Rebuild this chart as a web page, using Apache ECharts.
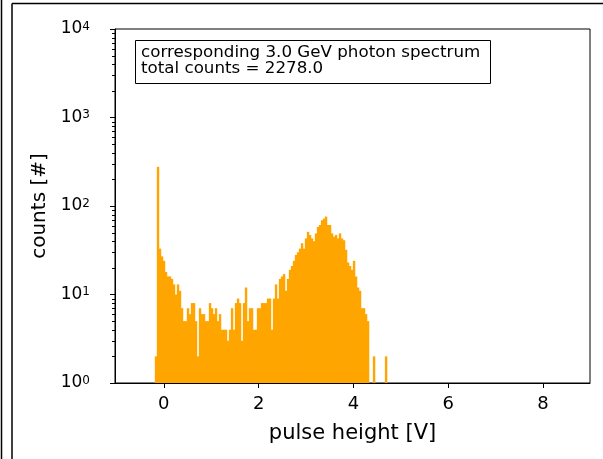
<!DOCTYPE html>
<html>
<head>
<meta charset="utf-8">
<title>photon spectrum</title>
<script src="https://cdn.jsdelivr.net/npm/echarts@6/dist/echarts.min.js"></script>
<style>
  html, body { margin: 0; padding: 0; background: #fff; }
  #chart { width: 603px; height: 459px; }
</style>
</head>
<body>
<div id="chart"></div>
<script>
// histogram bins (pulse height in V)
const binStart = -0.19
const binWidth = 0.0422
// counts per bin
const counts = [
  2, 277, 33, 27, 24, 18, 16, 16, 15, 13,
  10, 13, 11, 7, 5, 5, 7, 6, 8, 8,
  5, 2, 7, 6, 6, 5, 5, 8, 7, 6,
  7, 5, 6, 4, 4, 4, 3, 4, 7, 4,
  8, 9, 8, 3, 8, 12, 5, 7, 7, 4,
  4, 7, 7, 8, 8, 8, 9, 9, 4, 9,
  13, 9, 15, 16, 17, 11, 15, 19, 21, 24,
  28, 30, 33, 38, 33, 43, 51, 47, 43, 40,
  49, 58, 61, 69, 72, 76, 61, 61, 49, 45,
  47, 43, 49, 43, 41, 32, 23, 21, 19, 24,
  16, 12, 11, 7, 7, 6, 5, 0, 0, 2,
  0, 0, 0, 0, 0, 2
]
const xTicks = [0, 2, 4, 6, 8]
const infoLines = ['corresponding 3.0 GeV photon spectrum', 'total counts = 2278.0']

const xMin = -1.03
const xMax = 8.99
const FONT = 'DejaVu Sans'

const histData = []
counts.forEach(function (c, i) {
  if (c > 0) {
    const lo = binStart + i * binWidth
    histData.push([lo, lo + binWidth, c])
  }
})

// minor ticks of the log axis (2..9 in every decade)
const minorData = []
for (let d = 1; d < 10000; d *= 10) {
  for (let k = 2; k <= 9; k++) minorData.push([xMin, k * d])
}

const chart = echarts.init(document.getElementById('chart'), null, { renderer: 'canvas' })

const option = {
  backgroundColor: '#fff',
  animation: false,
  grid: {
    left: 115,
    right: 13,
    top: 29,
    bottom: 76,
    show: true,
    borderColor: '#000',
    borderWidth: 1,
    backgroundColor: 'transparent'
  },
  xAxis: {
    type: 'value',
    min: xMin,
    max: xMax,
    name: 'pulse height [V]',
    nameLocation: 'middle',
    nameGap: 40,
    nameTextStyle: { fontFamily: FONT, fontSize: 21, color: '#000' },
    axisLine: { show: true, onZero: false, lineStyle: { color: '#000', width: 1 } },
    axisTick: { show: true, inside: false, length: 5, customValues: xTicks, lineStyle: { color: '#000' } },
    axisLabel: { customValues: xTicks, fontFamily: FONT, fontSize: 18, color: '#000', margin: 12 },
    splitLine: { show: false }
  },
  yAxis: {
    type: 'log',
    logBase: 10,
    min: 1,
    max: 10000,
    name: 'counts [#]',
    nameLocation: 'middle',
    nameGap: 60,
    nameTextStyle: { fontFamily: FONT, fontSize: 20, color: '#000' },
    axisLine: { show: true, onZero: false, lineStyle: { color: '#000', width: 1 } },
    axisTick: { show: true, inside: false, length: 5, lineStyle: { color: '#000' } },
    axisLabel: {
      margin: 25,
      color: '#000',
      formatter: function (v) {
        const e = Math.round(Math.log10(v))
        return '{b|10}{s|' + e + '}'
      },
      rich: {
        b: { fontFamily: FONT, fontSize: 17, lineHeight: 17, color: '#000', verticalAlign: 'bottom', padding: [5, 0, 0, 0] },
        s: { fontFamily: FONT, fontSize: 12, lineHeight: 12, color: '#000', verticalAlign: 'top' }
      }
    },
    splitLine: { show: false }
  },
  graphic: [
    // outer frame of the screenshot
    { type: 'line', shape: { x1: 1.5, y1: 0, x2: 1.5, y2: 459 }, style: { stroke: '#000', lineWidth: 1.5 } },
    { type: 'line', shape: { x1: 12, y1: 3.5, x2: 12, y2: 459 }, style: { stroke: '#000', lineWidth: 1.5 } },
    { type: 'line', shape: { x1: 12, y1: 3.5, x2: 603, y2: 3.5 }, style: { stroke: '#000', lineWidth: 1.5 } },
    // info box
    {
      type: 'rect',
      shape: { x: 135.5, y: 40.5, width: 355, height: 43 },
      style: { fill: '#fff', stroke: '#000', lineWidth: 1 },
      z: 10
    },
    {
      type: 'text',
      x: 141,
      y: 45,
      z: 11,
      style: {
        text: infoLines.join('\n'),
        fill: '#000',
        font: '16.7px "' + FONT + '"',
        lineHeight: 16
      }
    }
  ],
  series: [
    {
      type: 'custom',
      name: 'spectrum',
      coordinateSystem: 'cartesian2d',
      encode: { x: [0, 1], y: 2 },
      data: histData,
      renderItem: function (params, api) {
        const c = api.value(2)
        const p0 = api.coord([api.value(0), 1])
        const p1 = api.coord([api.value(1), c])
        return {
          type: 'rect',
          shape: { x: p0[0], y: p1[1], width: p1[0] - p0[0] + 0.4, height: p0[1] - p1[1] },
          style: { fill: '#FFA500' }
        }
      }
    },
    {
      type: 'custom',
      name: 'minor',
      coordinateSystem: 'cartesian2d',
      encode: { x: 0, y: 1 },
      data: minorData,
      clip: false,
      silent: true,
      renderItem: function (params, api) {
        const p = api.coord([api.value(0), api.value(1)])
        const y = Math.round(p[1]) + 0.5
        return {
          type: 'line',
          shape: { x1: p[0] - 3, y1: y, x2: p[0], y2: y },
          style: { stroke: '#000', lineWidth: 1 }
        }
      }
    }
  ]
}

chart.setOption(option)
</script>
</body>
</html>
